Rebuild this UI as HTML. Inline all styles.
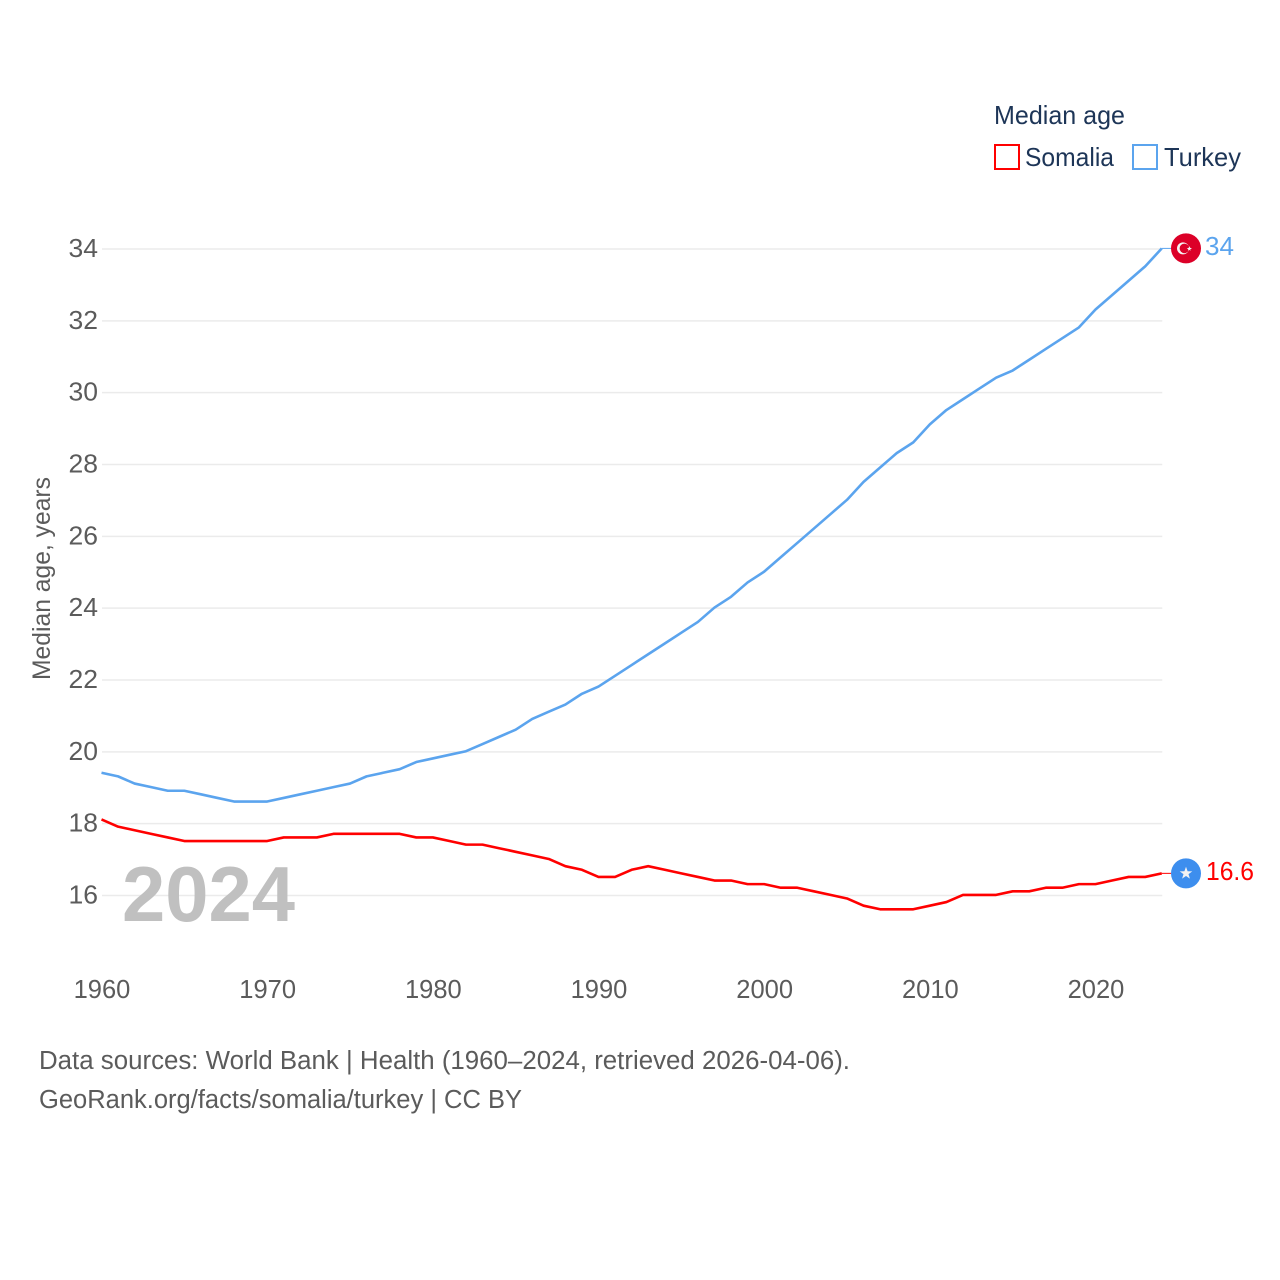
<!DOCTYPE html>
<html lang="en">
<head>
<meta charset="utf-8">
<title>Median age: Somalia and Turkey</title>
<style>
html,body{margin:0;padding:0;background:#fff;width:1280px;height:1280px;overflow:hidden}
svg{display:block}
text{font-family:"Liberation Sans",sans-serif}
</style>
</head>
<body>
<svg id="chart" width="1280" height="1280" viewBox="0 0 1280 1280" xmlns="http://www.w3.org/2000/svg">
  <rect width="1280" height="1280" fill="#ffffff"/>
  <g id="grid"></g>
  <g id="yticks"></g>
  <g id="xticks"></g>
  <text transform="translate(50,680) rotate(-90)" font-size="25" fill="#5b5b5b" textLength="203" lengthAdjust="spacingAndGlyphs">Median age, years</text>
  <text x="122" y="921" font-size="78" font-weight="700" fill="#c0c0c0" textLength="173" lengthAdjust="spacingAndGlyphs">2024</text>
  <path id="line-somalia" transform="translate(-0.5,-0.6)" fill="none" stroke="#ff0000" stroke-width="2.6" stroke-linejoin="round"/>
  <path id="line-turkey" transform="translate(-0.5,-0.6)" fill="none" stroke="#5ba4ee" stroke-width="2.6" stroke-linejoin="round"/>
  <line id="conn-somalia" stroke="#ff0000" stroke-width="1"/>
  <line id="conn-turkey" stroke="#5ba4ee" stroke-width="1"/>
  <g id="flag-turkey">
    <circle cx="0" cy="0" r="15" fill="#dc0028"/>
    <circle cx="-3" cy="0" r="6" fill="#f5f5f5"/>
    <circle cx="-1.6" cy="0" r="4.8" fill="#dc0028"/>
    <polygon points="1.5,0 4,-0.8 4.9,-3 5.6,-0.8 8,0 5.8,1 6.2,3 4.6,1.8 2.8,3 3.4,1" transform="translate(-0.4,0) scale(0.8)" fill="#f5f5f5"/>
  </g>
  <g id="flag-somalia">
    <circle cx="0" cy="0" r="15" fill="#3d8eee"/>
    <polygon points="0,-6.6 1.6,-2.1 6.3,-2 2.5,0.8 3.9,5.3 0,2.6 -3.9,5.3 -2.5,0.8 -6.3,-2 -1.6,-2.1" fill="#f2f2f2"/>
  </g>
  <text id="value-turkey" x="1205" y="255" font-size="25.5" fill="#5ba4ee" textLength="29" lengthAdjust="spacingAndGlyphs"></text>
  <text id="value-somalia" x="1206" y="880" font-size="25.5" fill="#ff0000" textLength="48" lengthAdjust="spacingAndGlyphs"></text>

  <text x="994" y="124" font-size="26" fill="#1d3557" textLength="131" lengthAdjust="spacingAndGlyphs">Median age</text>
  <g>
    <rect x="995" y="145" width="24" height="24" fill="#ffffff" stroke="#ff0000" stroke-width="2"/>
    <text x="1025" y="166" font-size="26" fill="#1d3557" textLength="89" lengthAdjust="spacingAndGlyphs">Somalia</text>
  </g>
  <g>
    <rect x="1133" y="145" width="24" height="24" fill="#ffffff" stroke="#5ba4ee" stroke-width="2"/>
    <text x="1164" y="166" font-size="26" fill="#1d3557" textLength="77" lengthAdjust="spacingAndGlyphs">Turkey</text>
  </g>

  <text x="39" y="1069" font-size="25.5" fill="#5b5b5b" textLength="811" lengthAdjust="spacingAndGlyphs">Data sources: World Bank | Health (1960–2024, retrieved 2026-04-06).</text>
  <text x="39" y="1108" font-size="25.5" fill="#5b5b5b" textLength="483" lengthAdjust="spacingAndGlyphs">GeoRank.org/facts/somalia/turkey | CC BY</text>
</svg>
<script>
const years = [];
for (let yr = 1960; yr <= 2024; yr++) years.push(yr);
const turkeyValues = [19.4,19.3,19.1,19.0,18.9,18.9,18.8,18.7,18.6,18.6,18.6,18.7,18.8,18.9,19.0,19.1,19.3,19.4,19.5,19.7,19.8,19.9,20.0,20.2,20.4,20.6,20.9,21.1,21.3,21.6,21.8,22.1,22.4,22.7,23.0,23.3,23.6,24.0,24.3,24.7,25.0,25.4,25.8,26.2,26.6,27.0,27.5,27.9,28.3,28.6,29.1,29.5,29.8,30.1,30.4,30.6,30.9,31.2,31.5,31.8,32.3,32.7,33.1,33.5,34.0];
const somaliaValues = [18.1,17.9,17.8,17.7,17.6,17.5,17.5,17.5,17.5,17.5,17.5,17.6,17.6,17.6,17.7,17.7,17.7,17.7,17.7,17.6,17.6,17.5,17.4,17.4,17.3,17.2,17.1,17.0,16.8,16.7,16.5,16.5,16.7,16.8,16.7,16.6,16.5,16.4,16.4,16.3,16.3,16.2,16.2,16.1,16.0,15.9,15.7,15.6,15.6,15.6,15.7,15.8,16.0,16.0,16.0,16.1,16.1,16.2,16.2,16.3,16.3,16.4,16.5,16.5,16.6];
const yTickLabels = [16,18,20,22,24,26,28,30,32,34];
const xTickLabels = [1960,1970,1980,1990,2000,2010,2020];
const turkeyEndLabel = "34";
const somaliaEndLabel = "16.6";

const NS = "http://www.w3.org/2000/svg";
function xScale(year){ return 102 + (year - 1960) * (1096 - 102) / 60; }
function yScale(v){ return 895.5 + (v - 16) * (249 - 895.5) / 18; }
function linePath(vals){
  return vals.map((v,i)=>(i?"L":"M")+xScale(years[i]).toFixed(2)+" "+yScale(v).toFixed(2)).join("");
}

const grid = document.getElementById("grid");
const yG = document.getElementById("yticks");
const xG = document.getElementById("xticks");

yTickLabels.forEach(t=>{
  const l = document.createElementNS(NS,"line");
  
  
  l.setAttribute("x1", xScale(1960));
  l.setAttribute("x2", xScale(2024));
  l.setAttribute("y1", yScale(t));
  l.setAttribute("y2", yScale(t));
  l.setAttribute("stroke", "#ebebeb");
  l.setAttribute("stroke-width", "1.5");
  grid.appendChild(l);

  const s = document.createElementNS(NS,"text");
  
  
  s.setAttribute("x", 98);
  s.setAttribute("y", yScale(t) + 8);
  s.setAttribute("text-anchor", "end");
  s.setAttribute("font-size", "25.5");
  s.setAttribute("fill", "#5b5b5b");
  s.setAttribute("textLength", "29.5");
  s.setAttribute("lengthAdjust", "spacingAndGlyphs");
  s.textContent = t;
  yG.appendChild(s);
});

xTickLabels.forEach(t=>{
  const s = document.createElementNS(NS,"text");
  
  
  s.setAttribute("x", xScale(t));
  s.setAttribute("y", 998);
  s.setAttribute("text-anchor", "middle");
  s.setAttribute("font-size", "25.5");
  s.setAttribute("fill", "#5b5b5b");
  s.textContent = t;
  xG.appendChild(s);
});

document.getElementById("line-somalia").setAttribute("d", linePath(somaliaValues));
document.getElementById("line-turkey").setAttribute("d", linePath(turkeyValues));

function placeEnd(vals, connId, flagId, valueId, label){
  const last = vals[vals.length-1];
  const ex = xScale(years[years.length-1]);
  const ey = yScale(last) - 0.6;
  const c = document.getElementById(connId);
  c.setAttribute("x1", ex - 0.5); c.setAttribute("x2", 1171);
  c.setAttribute("y1", ey); c.setAttribute("y2", ey);
  document.getElementById(flagId).setAttribute("transform", "translate(1186,"+ey.toFixed(2)+")");
  const tx = document.getElementById(valueId);
  tx.setAttribute("y", (ey + 6.6).toFixed(2));
  tx.textContent = label;
}
placeEnd(turkeyValues, "conn-turkey", "flag-turkey", "value-turkey", turkeyEndLabel);
placeEnd(somaliaValues, "conn-somalia", "flag-somalia", "value-somalia", somaliaEndLabel);
</script>
</body>
</html>
